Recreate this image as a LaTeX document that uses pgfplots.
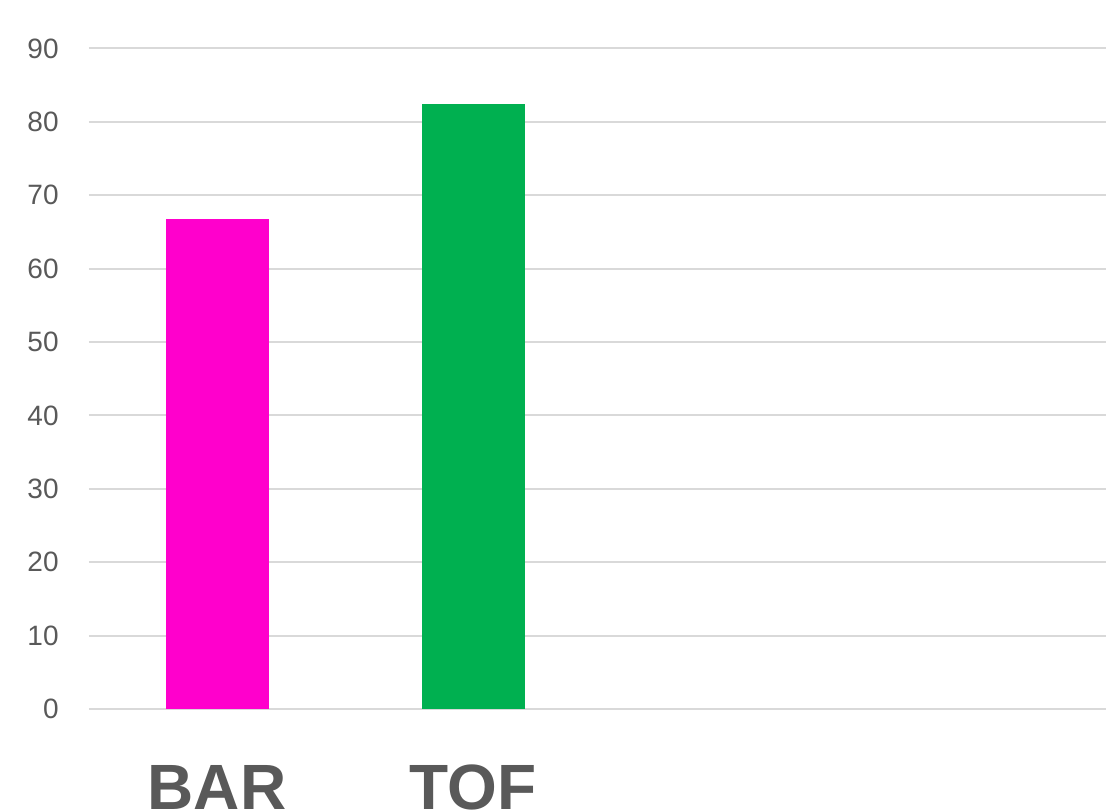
\documentclass[border=0pt]{standalone}
\usepackage{pgfplots}
\pgfplotsset{compat=1.18}
\usepackage{fontspec}
\setmainfont{Liberation Sans}
\definecolor{txtgray}{HTML}{595959}
\definecolor{gridgray}{HTML}{D9D9D9}
\definecolor{barpink}{HTML}{FF00CC}
\definecolor{bargreen}{HTML}{00B050}
\begin{document}
\begin{tikzpicture}
% page = 1106 x 809 px, 1 px = 0.5 pt
\useasboundingbox (-44.5pt,-50pt) rectangle (508.5pt,354.5pt);
\clip (-44.5pt,-50pt) rectangle (508.5pt,354.5pt);
\begin{axis}[
    at={(0,0)}, anchor=south west,
    scale only axis,
    width=512pt, height=330.25pt,
    ybar, bar width=51.5pt,
    xmin=-0.5, xmax=3.5,
    ymin=0, ymax=90,
    ytick={0,10,...,90},
    xtick={0,1,2,3},
    xticklabels={BAR,TOF,,},
    axis line style={draw=none},
    tick style={draw=none},
    ymajorgrids,
    major grid style={line width=1pt, color=gridgray},
    /pgf/number format/assume math mode=true,
    yticklabel style={font=\fontsize{14}{16}\selectfont, text=txtgray,
        anchor=east, inner sep=0pt, xshift=-15pt},
    xticklabel style={font=\fontsize{32}{36}\selectfont\bfseries, text=txtgray,
        anchor=base, inner sep=0pt, yshift=-46pt},
]
\addplot[draw=none, fill=barpink, bar shift=0pt] coordinates {(0,66.8)};
\addplot[draw=none, fill=bargreen, bar shift=0pt] coordinates {(1,82.4)};
\end{axis}
\end{tikzpicture}
\end{document}
